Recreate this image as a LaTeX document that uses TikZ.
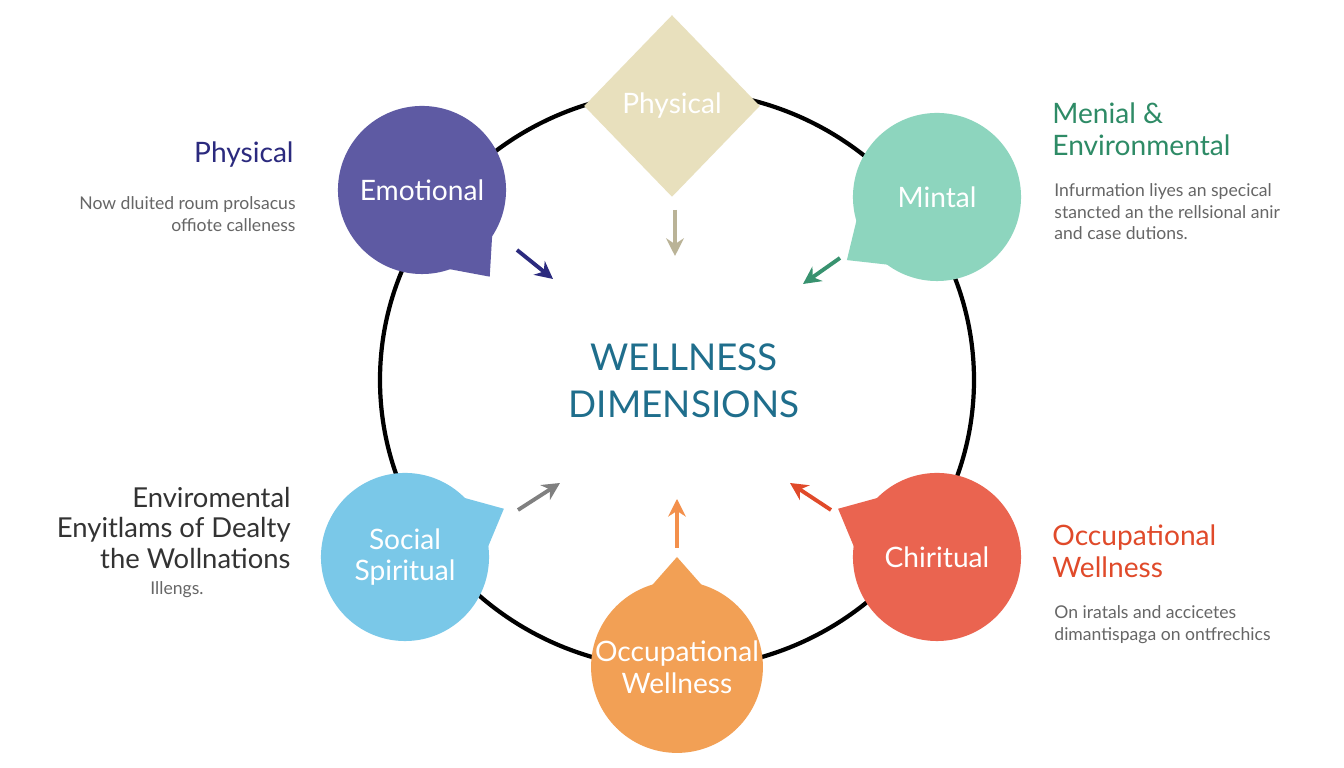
\documentclass[tikz,border=0pt]{standalone}
\usepackage{fontspec}
\setmainfont{Lato}
\usetikzlibrary{shapes.geometric,arrows.meta,calc}
\definecolor{cemo}{HTML}{5E5AA3}
\definecolor{cmin}{HTML}{8DD5BE}
\definecolor{csoc}{HTML}{7AC8E8}
\definecolor{cchi}{HTML}{EA6450}
\definecolor{cocc}{HTML}{F2A055}
\definecolor{cphy}{HTML}{E8E0BD}
\definecolor{ctitle}{HTML}{1F6E8C}
\definecolor{cnavy}{HTML}{2B2A7E}
\definecolor{cgreen}{HTML}{2E8B66}
\definecolor{cred}{HTML}{E04A2A}
\definecolor{ctxt}{HTML}{666666}
\tikzset{
  bubble/.style={circle,minimum size=1.68cm,inner sep=0pt,text=white,align=center,font=\fontsize{8}{9}\selectfont},
  head/.style={font=\fontsize{8}{9}\selectfont},
  small/.style={text=ctxt,font=\fontsize{5}{6.2}\selectfont},
  pt/.style={-{Stealth[length=5pt,width=5pt]},line width=1.1pt}
}
% bubble with a tail: name, position, colour, angle, text
\newcommand{\wbubble}[5]{%
  \fill[#3] ($(#2)+(-#4+24:80)$) -- ($(#2)+(-#4:110)$) -- ($(#2)+(-#4-24:80)$) -- cycle;
  \node[bubble,fill=#3] (#1) at (#2) {#5};
}
\begin{document}
\begin{tikzpicture}[x=0.01cm,y=-0.01cm]
\useasboundingbox (0,0) rectangle (1344,768);
\fill[white] (0,0) rectangle (1344,768);
\draw[line width=1.2pt] (677,380) ellipse [x radius=297,y radius=289];
\node[diamond,fill=cphy,minimum width=1.76cm,minimum height=1.82cm,inner sep=0pt,text=white,font=\fontsize{8}{10}\selectfont] (phys) at (672,106) {Physical};
\wbubble{emo}{422,190}{cemo}{-52}{Emotional}
\wbubble{min}{937,197}{cmin}{-145}{Mintal}
\wbubble{soc}{405,557}{csoc}{26}{Social\\Spiritual}
\wbubble{chi}{937,557}{cchi}{154}{Chiritual}
\wbubble{occ}{677,667}{cocc}{90}{Occupational\\Wellness}
\node[text=ctitle,align=center,font=\fontsize{10.5}{13.5}\selectfont] (title) at (684,381) {WELLNESS\\DIMENSIONS};
% arrows
\coordinate (a1) at (517,250); \coordinate (b1) at (553,279);
\coordinate (a2) at (675,210); \coordinate (b2) at (675,256);
\coordinate (a3) at (840,258); \coordinate (b3) at (803,284);
\coordinate (a4) at (518,510); \coordinate (b4) at (560,483);
\coordinate (a5) at (677,548); \coordinate (b5) at (677,499);
\coordinate (a6) at (831,510); \coordinate (b6) at (790,483);
\draw[pt,cnavy] (a1) -- (b1);
\draw[pt,cphy!80!black] (a2) -- (b2);
\draw[pt,cgreen!90!cmin] (a3) -- (b3);
\draw[pt,gray] (a4) -- (b4);
\draw[pt,cocc!90!red] (a5) -- (b5);
\draw[pt,cred] (a6) -- (b6);
% side texts
\node[head,text=cnavy,anchor=east] (t1) at (306,155) {Physical};
\node[small,align=right,anchor=north east] (d1) at (308,184) {Now dluited roum prolsacus\\offiote calleness};
\node[head,text=cgreen,anchor=west,align=left] (t2) at (1040,129) {Menial \&\\Environmental};
\node[small,align=left,anchor=north west] (d2) at (1042,171) {Infurmation liyes an specical\\stancted an the rellsional anir\\and case dutions.};
\node[head,text=black!80,anchor=east,align=right,font=\fontsize{7.8}{8.8}\selectfont] (t3) at (303,528) {Enviromental\\Enyitlams of Dealty\\the Wollnations};
\node[small,anchor=west] (d3) at (138,590) {Illengs.};
\node[head,text=cred,anchor=west,align=left] (t4) at (1040,551) {Occupational\\Wellness};
\node[small,align=left,anchor=north west] (d4) at (1042,593) {On iratals and accicetes\\dimantispaga on ontfrechics};
\end{tikzpicture}
\end{document}
